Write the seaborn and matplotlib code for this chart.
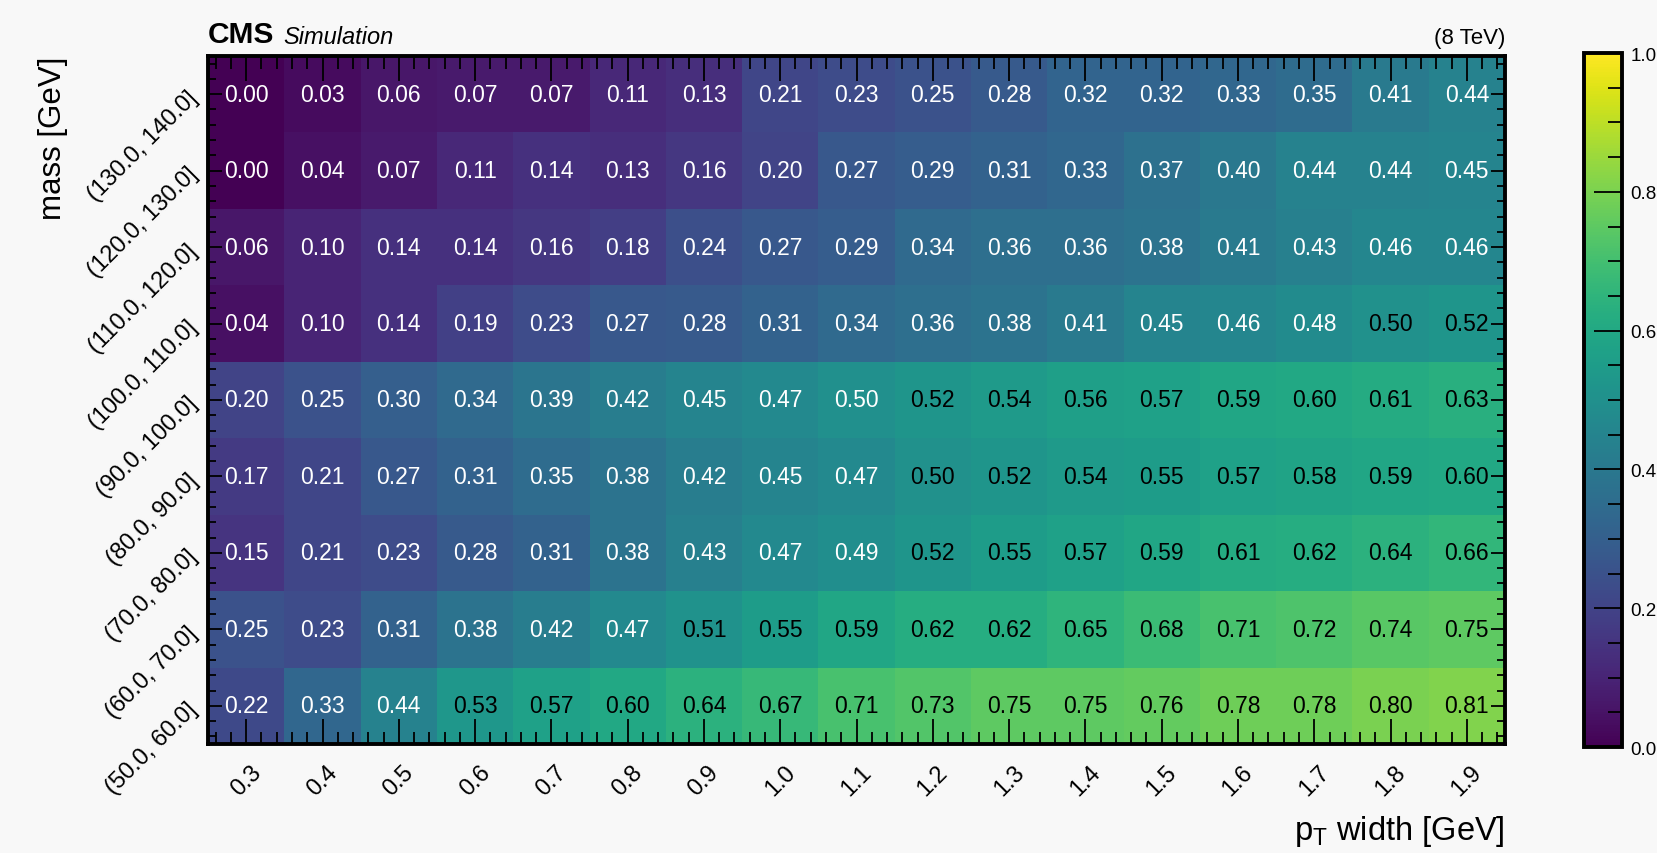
#!/usr/bin/env python3
# -*- coding: utf-8 -*-
"""
CMS-style efficiency map: mass bins vs. pT width, viridis heatmap with values.
"""

import numpy as np
import pandas as pd
import matplotlib
matplotlib.use("Agg")
import matplotlib.pyplot as plt
from matplotlib.ticker import MultipleLocator
import seaborn as sns

sns.set_style("ticks")
plt.rcParams['font.family'] = ['Liberation Sans', 'DejaVu Sans']
plt.rcParams['mathtext.default'] = 'regular'
plt.rcParams['text.color'] = 'black'
plt.rcParams['axes.labelcolor'] = 'black'
plt.rcParams['xtick.color'] = 'black'
plt.rcParams['ytick.color'] = 'black'

# x categories (pT width in GeV)
pt_widths = ['0.3', '0.4', '0.5', '0.6', '0.7', '0.8', '0.9', '1.0', '1.1',
             '1.2', '1.3', '1.4', '1.5', '1.6', '1.7', '1.8', '1.9']

# y categories, top row first
mass_bins = ['(130.0, 140.0]', '(120.0, 130.0]', '(110.0, 120.0]',
             '(100.0, 110.0]', '(90.0, 100.0]', '(80.0, 90.0]',
             '(70.0, 80.0]', '(60.0, 70.0]', '(50.0, 60.0]']

# values per mass bin
m130_140 = [0.00, 0.03, 0.06, 0.07, 0.07, 0.11, 0.13, 0.21, 0.23, 0.25, 0.28, 0.32, 0.32, 0.33, 0.35, 0.41, 0.44]
m120_130 = [0.00, 0.04, 0.07, 0.11, 0.14, 0.13, 0.16, 0.20, 0.27, 0.29, 0.31, 0.33, 0.37, 0.40, 0.44, 0.44, 0.45]
m110_120 = [0.06, 0.10, 0.14, 0.14, 0.16, 0.18, 0.24, 0.27, 0.29, 0.34, 0.36, 0.36, 0.38, 0.41, 0.43, 0.46, 0.46]
m100_110 = [0.04, 0.10, 0.14, 0.19, 0.23, 0.27, 0.28, 0.31, 0.34, 0.36, 0.38, 0.41, 0.45, 0.46, 0.48, 0.50, 0.52]
m90_100 = [0.20, 0.25, 0.30, 0.34, 0.39, 0.42, 0.45, 0.47, 0.498, 0.52, 0.54, 0.56, 0.57, 0.59, 0.60, 0.61, 0.63]
m80_90 = [0.17, 0.21, 0.27, 0.31, 0.35, 0.38, 0.42, 0.45, 0.47, 0.50, 0.52, 0.54, 0.55, 0.57, 0.58, 0.59, 0.60]
m70_80 = [0.15, 0.21, 0.23, 0.28, 0.31, 0.38, 0.43, 0.47, 0.49, 0.52, 0.55, 0.57, 0.59, 0.61, 0.62, 0.64, 0.66]
m60_70 = [0.25, 0.23, 0.31, 0.38, 0.42, 0.47, 0.51, 0.55, 0.59, 0.62, 0.62, 0.65, 0.68, 0.71, 0.72, 0.74, 0.75]
m50_60 = [0.22, 0.33, 0.44, 0.53, 0.57, 0.60, 0.64, 0.67, 0.71, 0.73, 0.75, 0.75, 0.76, 0.78, 0.78, 0.80, 0.81]

cbar_ticks = [0.0, 0.2, 0.4, 0.6, 0.8, 1.0]


def main():
    df = pd.DataFrame([m130_140, m120_130, m110_120, m100_110, m90_100,
                       m80_90, m70_80, m60_70, m50_60],
                      index=mass_bins, columns=pt_widths)

    fig = plt.figure(figsize=(16.58, 8.54), dpi=100, facecolor='#f8f8f8')
    ax = fig.add_axes([0.1255, 0.1276, 0.7822, 0.8057])
    cax = fig.add_axes([0.9554, 0.1241, 0.0229, 0.8126])

    sns.heatmap(df, ax=ax, cbar_ax=cax, cmap='viridis', vmin=0, vmax=1,
                annot=True, fmt='.2f', annot_kws={'fontsize': 16.5})

    # 白字/黑字按数值 0.5 分界
    for txt, v in zip(ax.texts, df.values.flat):
        txt.set_color('black' if v >= 0.5 else 'white')

    # 坐标轴（刻度画在色块之上）
    ax.set_axisbelow(False)
    for s in ax.spines.values():
        s.set_visible(True)
        s.set_linewidth(2.8)
        s.set_color('black')
        s.set_zorder(5)
    ax.xaxis.set_minor_locator(MultipleLocator(0.2, offset=0.1))
    ax.yaxis.set_minor_locator(MultipleLocator(0.2, offset=0.1))
    ax.tick_params(which='both', direction='in', top=True, right=True,
                   bottom=True, left=True, color='black', width=1.3)
    ax.tick_params(axis='x', which='major', length=18, pad=12)
    ax.tick_params(axis='x', which='minor', length=9)
    ax.tick_params(axis='y', which='major', length=10, pad=10)
    ax.tick_params(axis='y', which='minor', length=6)

    ax.set_xticklabels(pt_widths, rotation=45, ha='center', fontsize=17)
    ax.set_yticklabels(mass_bins, rotation=45, ha='right', va='center',
                       rotation_mode='anchor', fontsize=17)

    ax.set_xlabel('p$_{T}$ width [GeV]', loc='right', fontsize=23.5, labelpad=10)
    ax.set_ylabel('mass [GeV]', loc='top', fontsize=22.5, labelpad=11)

    ax.text(0.0, 1.012, 'CMS', transform=ax.transAxes, fontsize=21.5,
            fontweight='bold', ha='left', va='bottom')
    ax.text(0.058, 1.012, 'Simulation', transform=ax.transAxes, fontsize=17,
            style='italic', ha='left', va='bottom')
    ax.text(1.0, 1.012, '(8 TeV)', transform=ax.transAxes, fontsize=16,
            ha='right', va='bottom')

    # 颜色条
    cax.set_axisbelow(False)
    cax.set_yticks(cbar_ticks)
    cax.set_yticklabels([f'{t:.1f}' for t in cbar_ticks])
    cax.yaxis.set_minor_locator(MultipleLocator(0.05))
    cax.tick_params(which='both', direction='in', right=True, left=False,
                    color='black', width=1.3, labelsize=13.5, pad=6)
    cax.tick_params(which='major', length=20)
    cax.tick_params(which='minor', length=10)
    cbar = ax.collections[0].colorbar
    cbar.outline.set_visible(True)
    cbar.outline.set_linewidth(2.8)
    cbar.outline.set_edgecolor('black')

    fig.savefig('out.png', dpi=100, facecolor=fig.get_facecolor())
    plt.close(fig)


if __name__ == "__main__":
    main()
